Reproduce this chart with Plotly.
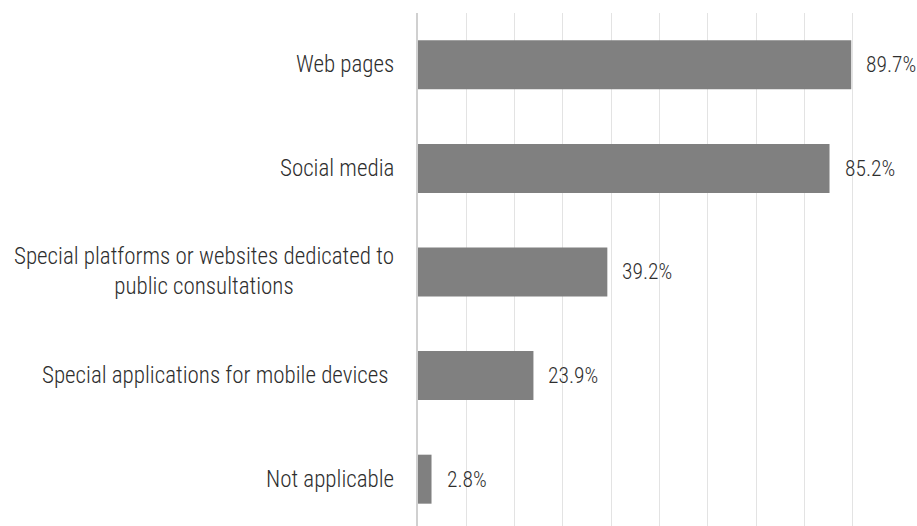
import plotly.graph_objects as go

categories = [
    "Web pages",
    "Social media",
    "Special platforms or websites dedicated to<br>public consultations",
    "Special applications for mobile devices ",
    "Not applicable",
]
values = [89.7, 85.2, 39.2, 23.9, 2.8]
value_labels = ["89.7%", "85.2%", "39.2%", "23.9%", "2.8%"]

FONT = "Roboto Condensed, Liberation Sans Narrow, Roboto, sans-serif"
TXT = "#2e2e2e"
SIZE = 23
VSIZE = 21.5

fig = go.Figure(
    go.Bar(
        x=values,
        y=categories,
        orientation="h",
        marker=dict(color="#808080", line=dict(width=0)),
        hoverinfo="skip",
    )
)

annotations = []
for c, v, lab in zip(categories, values, value_labels):
    annotations.append(dict(
        x=v, y=c, xref="x", yref="y", text=lab, showarrow=False,
        xanchor="left", xshift=13, font=dict(family=FONT, size=VSIZE, color=TXT, weight=300),
    ))
    annotations.append(dict(
        x=0, y=c, xref="paper", yref="y", text=c, showarrow=False,
        xanchor="right", xshift=-22, align="center",
        font=dict(family=FONT, size=SIZE, color=TXT, weight=300),
    ))

fig.update_layout(
    width=917,
    height=526,
    margin=dict(l=418, r=16, t=13, b=0, pad=0),
    paper_bgcolor="white",
    plot_bgcolor="white",
    bargap=0.527,
    showlegend=False,
    annotations=annotations,
    xaxis=dict(
        range=[0, 100], dtick=10, showticklabels=False, showgrid=True,
        gridcolor="#e3e3e3", gridwidth=1, zeroline=False, showline=False, ticks="",
    ),
    yaxis=dict(
        type="category", categoryorder="array", categoryarray=categories,
        range=[4.452, -0.5], showticklabels=False, showgrid=False,
        showline=True, linecolor="#d0d0d0", linewidth=2, ticks="", zeroline=False,
    ),
)

fig.write_html(
    "out.html",
    config={"displayModeBar": False},
    post_script="document.body.style.margin='0';document.body.style.overflow='hidden';",
)
